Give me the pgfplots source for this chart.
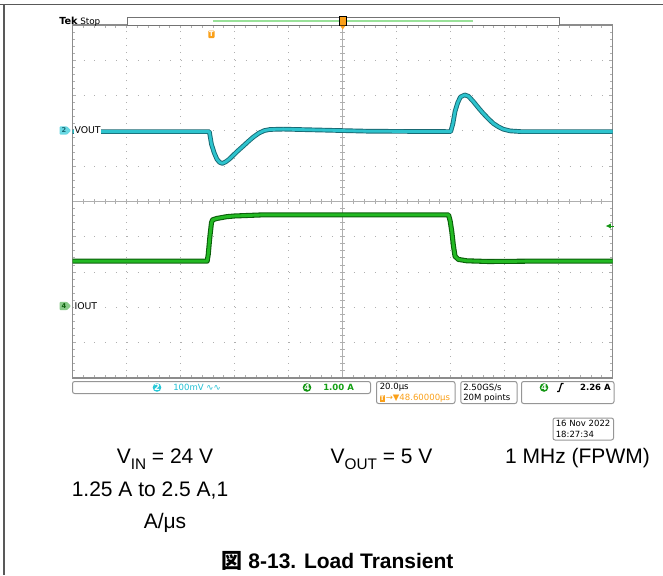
\documentclass[border=0pt]{standalone}
\usepackage{pgfplots}
\pgfplotsset{compat=1.18}
\usepackage{fontspec}
\setmainfont{Liberation Sans}
\newfontfamily\scopefont{DejaVu Sans}
\newfontfamily\cjk{Noto Sans CJK JP}
\usetikzlibrary{arrows.meta}
\definecolor{vcyan}{RGB}{45,195,205}
\definecolor{vdark}{RGB}{25,105,115}
\definecolor{igreen}{RGB}{35,185,35}
\definecolor{idark}{RGB}{10,95,10}
\definecolor{tekorange}{RGB}{250,160,25}
\definecolor{gridgray}{RGB}{175,175,175}
\definecolor{bordergray}{RGB}{140,140,140}
\definecolor{boxgray}{RGB}{150,150,150}
\definecolor{cyantext}{RGB}{30,190,210}
\definecolor{greentext}{RGB}{20,160,20}
\definecolor{chfour}{RGB}{20,150,20}
\definecolor{chtwo}{RGB}{40,200,215}

\begin{document}
\begin{tikzpicture}[x=0.75pt,y=-0.75pt]
\path[use as bounding box] (0,0) rectangle (663,575);
% page frame
\draw[black!65, line width=1.1pt] (0,4.5) -- (663,4.5);
\draw[black!65, line width=1.1pt] (4,4.5) -- (4,575);
% center crosshair of graticule
\draw[gridgray, line width=0.8pt] (72.7,201.5) -- (612.7,201.5);
\draw[gridgray, line width=0.8pt] (342.7,25) -- (342.7,378);
\foreach \k in {1,...,49} \draw[gridgray, line width=0.75pt] (72.7+\k*10.8,199.2) -- (72.7+\k*10.8,203.8);
\foreach \k in {1,...,49} \draw[gridgray, line width=0.75pt] (340.4,25+\k*7.06) -- (345,25+\k*7.06);

\begin{axis}[
  at={(54.525pt,-283.5pt)}, anchor=south west,
  scale only axis, width=405pt, height=264.75pt,
  xmin=-5, xmax=5, ymin=-5, ymax=5,
  xtick={-5,...,5}, ytick={-5,...,5},
  xticklabels={}, yticklabels={},
  minor x tick num=4, minor y tick num=4,
  xtick pos=both, ytick pos=both, tick align=inside,
  major tick length=2.6pt, minor tick length=2pt,
  every tick/.style={gridgray, line width=0.75pt},
  grid=major,
  x grid style={gridgray, line width=0.75pt, dash pattern=on 0.75pt off 4.545pt},
  y grid style={gridgray, line width=0.75pt, dash pattern=on 0.75pt off 7.35pt},
  axis line style={bordergray, line width=1.1pt},
  clip=true,
]
% VOUT (ch2, 100 mV/div), in divisions
\addplot[vdark, line width=3.5pt, line join=round] coordinates {
(-5,1.98) (-2.47,1.98) (-2.43,1.62) (-2.38,1.38) (-2.33,1.2) (-2.28,1.11) (-2.23,1.08)
(-2.17,1.12) (-2.1,1.2) (-1.96,1.41) (-1.85,1.56) (-1.75,1.70) (-1.66,1.82) (-1.55,1.94)
(-1.45,2.01) (-1.35,2.04) (-1.1,2.05) (-0.3,2.02) (0.5,1.99) (2.0,1.98) (2.04,2.2)
(2.08,2.55) (2.13,2.8) (2.18,2.96) (2.26,3.02) (2.33,2.98) (2.42,2.83) (2.51,2.66)
(2.6,2.5) (2.7,2.34) (2.79,2.21) (2.88,2.12) (2.97,2.05) (3.1,2.0) (3.3,1.98) (5,1.98)};
\addplot[vcyan, line width=2.1pt, line join=round] coordinates {
(-5,1.98) (-2.47,1.98) (-2.43,1.62) (-2.38,1.38) (-2.33,1.2) (-2.28,1.11) (-2.23,1.08)
(-2.17,1.12) (-2.1,1.2) (-1.96,1.41) (-1.85,1.56) (-1.75,1.70) (-1.66,1.82) (-1.55,1.94)
(-1.45,2.01) (-1.35,2.04) (-1.1,2.05) (-0.3,2.02) (0.5,1.99) (2.0,1.98) (2.04,2.2)
(2.08,2.55) (2.13,2.8) (2.18,2.96) (2.26,3.02) (2.33,2.98) (2.42,2.83) (2.51,2.66)
(2.6,2.5) (2.7,2.34) (2.79,2.21) (2.88,2.12) (2.97,2.05) (3.1,2.0) (3.3,1.98) (5,1.98)};
% IOUT (ch4, 1 A/div), in divisions
\addplot[idark, line width=3.8pt, line join=round] coordinates {
(-5,-1.69) (-2.51,-1.69) (-2.49,-1.5) (-2.46,-1.0) (-2.43,-0.6) (-2.41,-0.52) (-2.33,-0.48)
(-2.15,-0.43) (-2.0,-0.41) (-1.5,-0.38) (1.96,-0.38) (1.99,-0.55) (2.02,-0.85) (2.05,-1.25)
(2.08,-1.55) (2.14,-1.64) (2.3,-1.68) (2.7,-1.70) (3.5,-1.69) (5,-1.69)};
\addplot[igreen, line width=2.2pt, line join=round] coordinates {
(-5,-1.69) (-2.51,-1.69) (-2.49,-1.5) (-2.46,-1.0) (-2.43,-0.6) (-2.41,-0.52) (-2.33,-0.48)
(-2.15,-0.43) (-2.0,-0.41) (-1.5,-0.38) (1.96,-0.38) (1.99,-0.55) (2.02,-0.85) (2.05,-1.25)
(2.08,-1.55) (2.14,-1.64) (2.3,-1.68) (2.7,-1.70) (3.5,-1.69) (5,-1.69)};
\end{axis}

% Tek Stop and record bar
\node[anchor=base west, inner sep=0, font=\scopefont\bfseries\fontsize{7.3}{8}\selectfont] at (59,24.5) {Tek};
\node[anchor=base west, inner sep=0, font=\scopefont\fontsize{6.6}{8}\selectfont] at (80,24.5) {Stop};
\draw[black!55, fill=white, line width=0.75pt] (127,17) rectangle (559,25.5);
\draw[green!70!black!40, line width=1.6pt] (213,21) -- (473,21);
\fill[tekorange] (340,17) rectangle (345.5,25);
\draw[black, line width=0.9pt] (339.3,16.5) rectangle (346.3,25.8);
\fill[tekorange] (340,25.5) -- (345.5,25.5) -- (342.7,29.5) -- cycle;
% trigger T marker
\fill[tekorange, rounded corners=0.6pt] (208.3,30.5) rectangle (214.5,38);
\node[inner sep=0, text=white, font=\scopefont\bfseries\fontsize{5}{5}\selectfont] at (211.4,34.3) {T};

% channel labels
\node[anchor=west, fill=white, inner sep=0.6pt, font=\scopefont\fontsize{7}{8}\selectfont] at (73.5,130.5) {VOUT};
\fill[chtwo!70, rounded corners=0.8pt] (59.5,126.3) -- (67,126.3) -- (71.2,130.5) -- (67,134.7) -- (59.5,134.7) -- cycle;
\node[inner sep=0, text=vdark, font=\scopefont\bfseries\fontsize{5}{5}\selectfont] at (64,130.5) {2};
\node[anchor=west, fill=white, inner sep=0.6pt, font=\scopefont\fontsize{7}{8}\selectfont] at (73.5,306) {IOUT};
\fill[chfour!50, rounded corners=0.8pt] (59.5,301.8) -- (67,301.8) -- (71.2,306) -- (67,310.2) -- (59.5,310.2) -- cycle;
\node[inner sep=0, text=idark, font=\scopefont\bfseries\fontsize{5}{5}\selectfont] at (64,306) {4};
% trigger level arrow
\draw[chfour, line width=0.75pt, -{Latex[length=4pt,width=4pt]}] (613.5,226) -- (605.5,226);

% bottom readout boxes
\begin{scope}[font=\scopefont\fontsize{6.4}{7}\selectfont]
\draw[boxgray, line width=0.75pt, rounded corners=1.6pt] (72.5,381.5) rectangle (370.5,393.5);
\fill[chtwo] (157,387.5) circle (4.3);
\node[text=white, inner sep=0] at (157,387.5) {\bfseries 2};
\node[anchor=west, inner sep=0, text=cyantext] at (173,387.5) {100mV ∿∿};
\fill[chfour] (307,387.5) circle (4.3);
\node[text=white, inner sep=0] at (307,387.5) {\bfseries 4};
\node[anchor=west, inner sep=0, text=greentext] at (323,387.5) {\bfseries 1.00 A};

\draw[boxgray, line width=0.75pt, rounded corners=1.6pt] (376.5,381.5) rectangle (455,403.5);
\node[anchor=west, inner sep=0] at (379.5,387.5) {20.0µs};
\fill[tekorange] (379.5,394.5) rectangle (385.3,402);
\node[inner sep=0, text=white, font=\scopefont\bfseries\fontsize{4.8}{5}\selectfont] at (382.4,398.3) {T};
\node[anchor=west, inner sep=0, text=tekorange] at (385.5,398.5) {→▼48.60000µs};

\draw[boxgray, line width=0.75pt, rounded corners=1.6pt] (460.8,381.5) rectangle (517,403.5);
\node[anchor=west, inner sep=0] at (463,387.5) {2.50GS/s};
\node[anchor=west, inner sep=0] at (463,398.5) {20M points};

\draw[boxgray, line width=0.75pt, rounded corners=1.6pt] (521.5,381.5) rectangle (614,403.5);
\fill[chfour] (544,387.5) circle (4.3);
\node[text=white, inner sep=0] at (544,387.5) {\bfseries 4};
\draw[black, line width=0.9pt] (557,391.5) -- (559,391.5) -- (561.5,383.5) -- (563.5,383.5);
\node[anchor=east, inner sep=0] at (611,387.5) {\bfseries 2.26 A};

\draw[boxgray, line width=0.75pt, rounded corners=1.6pt] (553,418) rectangle (613.5,440);
\node[anchor=west, inner sep=0] at (555.5,423.8) {16 Nov 2022};
\node[anchor=west, inner sep=0] at (555.5,434.6) {18:27:34};
\end{scope}

% conditions text
\begin{scope}[font=\fontsize{15.75}{18}\selectfont]
\node[anchor=base, inner sep=0] at (165,463) {V\raisebox{-0.3em}{\fontsize{11.5}{12}\selectfont IN} = 24 V};
\node[anchor=base, inner sep=0] at (381.5,463) {V\raisebox{-0.3em}{\fontsize{11.5}{12}\selectfont OUT} = 5 V};
\node[anchor=base, inner sep=0] at (577.5,463) {1 MHz (FPWM)};
\node[anchor=base, inner sep=0] at (150,496) {1.25 A to 2.5 A,1};
\node[anchor=base, inner sep=0] at (165,528) {A/μs};
\node[anchor=base, inner sep=0] at (337.5,568) {\bfseries{\cjk 図} 8-13. Load Transient};
\end{scope}
\end{tikzpicture}
\end{document}
